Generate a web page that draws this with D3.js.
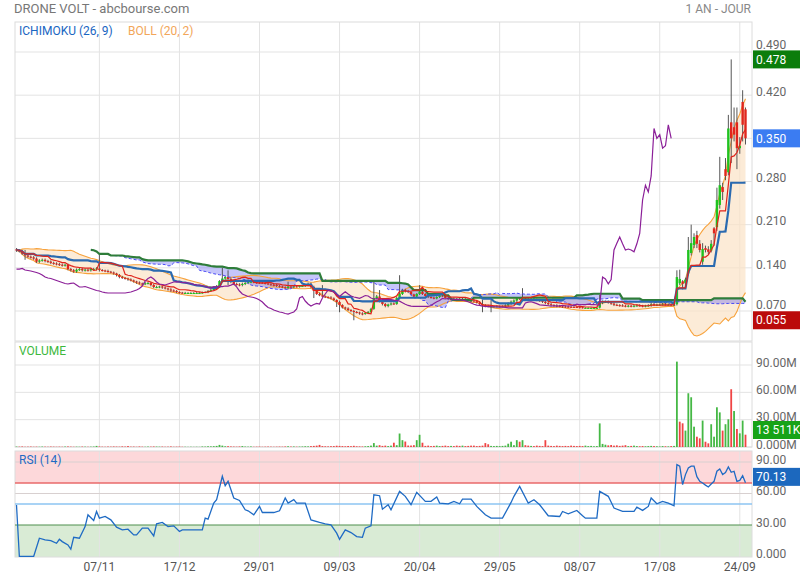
<!DOCTYPE html>
<html><head><meta charset="utf-8">
<script src="https://cdn.jsdelivr.net/npm/d3@7"></script>
<style>body{margin:0;background:#fff;}svg{font-family:Roboto,"Noto Sans",sans-serif;}</style>
</head><body><svg id="c" width="800" height="580"></svg>
<script>
const closes=[.168,.167,.163,.160,.158,.157,.155,.150,.152,.153,
.151,.150,.148,.147,.146,.145,.144,.145,.138,.136,
.134,.137,.138,.136,.137,.136,.138,.138,.139,.1365,
.1357,.1349,.1337,.1324,.1308,.1284,.1251,.1235,.1227,.1211,
.1195,.1178,.1162,.1146,.1138,.1149,.1154,.1122,.1089,.1089,
.1097,.1081,.1065,.1049,.1032,.1024,.1008,.0997,.0992,.0992,
.0992,.0992,.0992,.0992,.0992,.100,.1008,.1024,.1041,.1065,
.1105,.1186,.1227,.1251,.1219,.117,.1138,.113,.1122,.1138,
.1154,.117,.1175,.117,.1162,.1159,.1154,.1146,.1133,.1125,
.1122,.1109,.1097,.1084,.1073,.1095,.109,.110,.1095,.1105,
.1105,.112,.1138,.109,.1024,.0976,.0955,.0935,.0927,.0919,
.0903,.0878,.0846,.0797,.0757,.0741,.0716,.070,.0684,.0676,
.066,.0651,.0668,.0684,.0732,.0911,.0935,.0862,.0814,.0781,
.0805,.0822,.0814,.0911,.0976,.1041,.1024,.1008,.0968,.0935,
.0976,.1013,.0976,.0943,.0927,.0916,.0905,.0927,.0951,.0943,
.0911,.0895,.090,.0895,.089,.0885,.089,.0885,.0875,.087,
.086,.0835,.081,.079,.078,.0775,.0775,.0775,.0775,.0775,
.0776,.079,.082,.085,.087,.0905,.0895,.0905,.0895,.0885,
.089,.0885,.0875,.0865,.085,.083,.081,.0795,.079,.078,
.0775,.0772,.077,.0768,.0766,.0764,.0762,.076,.075,.075,
.075,.075,.075,.075,.083,.0845,.085,.0835,.082,.080,
.0795,.079,.0785,.078,.0785,.078,.0785,.079,.0785,.078,
.0785,.079,.081,.080,.0805,.0805,.081,.0805,.0805,.080,
.080,.125,.122,.114,.121,.169,.180,.190,.179,.169,
.1705,.169,.166,.179,.196,.250,.274,.263,.289,.366,
.350,.356,.334,.338,.372,.350];
const opens=[.170,.168,.167,.163,.160,.158,.157,.155,.150,.152,
.153,.151,.150,.148,.147,.146,.145,.144,.145,.138,
.136,.134,.137,.138,.136,.137,.136,.138,.138,.139,
.1365,.1357,.1349,.1337,.1324,.1308,.1284,.1251,.1235,.1227,
.1211,.1195,.1178,.1162,.1146,.1138,.1149,.1154,.1122,.1089,
.1089,.1097,.1081,.1065,.1049,.1032,.1024,.1008,.0997,.0992,
.0992,.0992,.0992,.0992,.0992,.0992,.100,.1008,.1024,.1041,
.1065,.1105,.1186,.1227,.1251,.1219,.117,.1138,.113,.1122,
.1138,.1154,.117,.1175,.117,.1162,.1159,.1154,.1146,.1133,
.1125,.1122,.1109,.1097,.1084,.1073,.1095,.109,.110,.1095,
.1105,.1105,.112,.1138,.109,.1024,.0976,.0955,.0935,.0927,
.0919,.0903,.0878,.0846,.0797,.0757,.0741,.0716,.070,.0684,
.0676,.066,.0651,.0668,.0684,.0735,.0911,.0935,.0862,.0814,
.0781,.0805,.0822,.0814,.0911,.0976,.1041,.1024,.1008,.0968,
.0935,.0976,.1013,.0976,.0943,.0927,.0916,.0905,.0927,.0951,
.0943,.0911,.0895,.090,.0895,.089,.0885,.089,.0885,.0875,
.087,.086,.0835,.081,.079,.078,.0775,.0775,.0775,.0775,
.0775,.0776,.079,.082,.085,.087,.0905,.0895,.0905,.0895,
.0885,.089,.0885,.0875,.0865,.085,.083,.081,.0795,.079,
.078,.0775,.0772,.077,.0768,.0766,.0764,.0762,.076,.075,
.075,.075,.075,.075,.0755,.083,.0845,.085,.0835,.082,
.080,.0795,.079,.0785,.078,.0785,.078,.0785,.079,.0785,
.078,.0785,.079,.081,.080,.0805,.0805,.081,.0805,.0805,
.0795,.081,.115,.118,.115,.131,.164,.177,.193,.179,
.150,.172,.170,.168,.204,.206,.242,.271,.300,.295,
.376,.368,.376,.334,.409,.397];
const highs=[.172,.170,.169,.169,.162,.160,.159,.157,.154,.155,
.155,.153,.152,.150,.149,.148,.147,.147,.147,.140,
.138,.139,.140,.140,.139,.139,.140,.140,.141,.164,
.138,.137,.137,.135,.134,.132,.130,.127,.125,.124,
.123,.121,.119,.118,.116,.117,.117,.117,.114,.111,
.111,.111,.110,.108,.107,.105,.104,.102,.101,.101,
.1005,.1005,.1005,.1005,.1005,.1015,.102,.104,.106,.108,
.112,.120,.140,.127,.136,.124,.119,.116,.115,.116,
.117,.121,.119,.119,.119,.118,.118,.117,.116,.115,
.114,.114,.112,.111,.110,.1175,.111,.112,.112,.112,
.112,.114,.116,.116,.111,.104,.100,.112,.095,.094,
.094,.092,.089,.087,.081,.077,.076,.073,.072,.070,
.069,.068,.068,.070,.075,.117,.096,.104,.088,.083,
.082,.084,.084,.093,.128,.106,.106,.104,.102,.098,
.099,.112,.103,.099,.096,.094,.093,.094,.097,.097,
.096,.093,.092,.092,.091,.091,.091,.091,.090,.089,
.089,.088,.085,.088,.081,.080,.088,.079,.079,.079,
.079,.081,.084,.087,.089,.092,.092,.107,.092,.091,
.091,.091,.090,.089,.088,.087,.085,.083,.081,.081,
.080,.079,.079,.079,.078,.078,.078,.078,.077,.076,
.076,.076,.076,.076,.096,.087,.087,.087,.085,.084,
.082,.081,.081,.080,.080,.080,.080,.081,.081,.080,
.080,.081,.083,.083,.082,.082,.083,.083,.082,.082,
.082,.136,.137,.120,.124,.190,.210,.196,.200,.185,
.180,.176,.175,.185,.206,.270,.320,.278,.318,.388,
.478,.400,.400,.352,.428,.400];
const lows=[.166,.165,.161,.153,.156,.155,.153,.148,.148,.150,
.149,.148,.146,.145,.144,.143,.142,.142,.136,.134,
.132,.132,.135,.134,.134,.134,.134,.136,.136,.134,
.134,.133,.132,.131,.129,.126,.123,.122,.121,.119,
.118,.116,.114,.113,.112,.112,.113,.110,.107,.107,
.107,.106,.105,.103,.101,.101,.099,.098,.098,.098,
.098,.098,.098,.098,.098,.098,.099,.099,.101,.103,
.105,.109,.121,.121,.112,.115,.112,.111,.110,.110,
.112,.114,.115,.115,.114,.114,.114,.113,.112,.111,
.110,.109,.108,.107,.106,.105,.107,.107,.108,.108,
.109,.109,.110,.107,.091,.096,.094,.092,.091,.090,
.089,.086,.0765,.068,.074,.072,.070,.068,.055,.066,
.064,.063,.064,.065,.067,.072,.089,.084,.079,.076,
.076,.079,.080,.080,.089,.096,.100,.099,.095,.092,
.092,.096,.096,.093,.091,.090,.089,.089,.091,.093,
.090,.088,.088,.088,.088,.087,.087,.087,.086,.085,
.084,.082,.079,.068,.076,.076,.068,.076,.076,.076,
.076,.076,.077,.080,.083,.085,.088,.088,.088,.087,
.087,.087,.086,.085,.083,.081,.079,.078,.077,.076,
.076,.075,.075,.075,.075,.075,.075,.074,.074,.074,
.074,.074,.074,.074,.074,.081,.083,.082,.080,.078,
.078,.077,.077,.076,.076,.076,.076,.077,.077,.076,
.076,.077,.077,.078,.078,.079,.079,.079,.079,.078,
.0785,.079,.112,.105,.112,.128,.160,.172,.172,.165,
.145,.165,.162,.165,.176,.200,.236,.250,.282,.290,
.310,.345,.300,.325,.345,.340];
const volumes=[.5,.4,.6,.3,.4,.5,.3,.4,.3,.5,
.4,.3,.5,.4,.3,.4,.3,.5,.6,.4,
.3,.4,.3,.5,.4,.3,.4,.5,1.2,.6,
.4,.3,.5,.4,.6,.5,.4,.7,.5,1.0,
.4,.5,.3,.6,.4,.3,.5,.4,.6,.5,
.4,.5,.3,.4,.6,.3,.4,.5,.3,.3,
.2,.3,.2,.3,.2,.6,.5,.8,.7,.9,
1.2,2.3,1.5,.8,.9,.6,.5,.4,.6,1.0,
.5,.4,.6,.3,.4,.5,.3,.4,.5,.4,
.3,.4,.5,.4,.6,.8,.5,.6,.4,.5,
.6,.8,.7,1.0,1.2,1.5,2.3,1.0,.8,.7,
.9,1.0,1.4,1.2,1.0,.8,1.1,.9,1.3,.8,
.7,.6,.8,1.0,1.5,4.3,1.5,2.0,1.2,1.5,
1.0,1.5,4.7,2.0,14.8,7.5,6.0,1.6,1.6,2.0,
7.5,13.4,4.7,1.2,1.5,1.0,1.2,1.5,1.0,1.2,
1.5,1.0,1.2,1.0,1.5,1.2,1.5,1.0,1.2,1.5,
1.5,1.0,1.2,1.5,4.3,3.0,1.2,1.0,1.2,1.0,
1.2,1.5,3.6,5.8,2.0,7.5,5.8,7.5,2.0,1.5,
1.2,1.0,1.5,1.2,1.0,7.5,1.5,1.2,1.0,1.5,
1.2,1.0,1.2,1.0,1.5,1.2,1.0,1.2,1.0,1.5,
1.0,1.2,.8,1.0,25.9,3.4,2.5,1.8,2.2,1.5,
1.8,1.2,1.5,2.0,1.0,1.2,1.5,1.0,.8,1.0,
.8,1.0,1.2,1.0,.8,.6,1.0,.8,.7,1.0,
1.2,93.7,27.8,26,18,59,54.6,22.3,11.3,9.5,
29,5.8,4,25,11.3,43.6,38,18,25,30.4,
63.4,39.5,19.8,15,29,13.511];
const rsiIdx=[0,1,6,8,10,12,14,15,16,18,19,20,22,24,25,27,28,29,31,33,35,37,39,41,42,44,46,48,49,51,53,55,57,58,65,66,67,69,70,72,73,74,76,78,80,81,83,85,86,90,92,94,95,97,98,101,103,106,108,110,112,113,115,117,119,121,122,124,125,127,128,130,131,134,136,138,140,143,145,147,148,151,153,155,156,159,161,164,166,170,173,174,176,179,181,183,186,190,191,193,196,198,199,203,204,207,209,212,216,217,219,221,222,224,226,228,230,231,232,233,234,235,236,237,238,239,240,241,242,243,244,245,246,247,248,249,250,251,252,253,254,255];
const rsiVal=[49,0,0,17.4,15.8,15.2,12.6,16.4,14.2,11,6.9,18.3,17.4,28.5,39.7,34.3,42.9,36.5,38.1,34.9,27.9,25.4,26,20.6,20.6,27,27,19.6,31.1,32.4,28.5,29.2,23.8,25.4,25.4,36.5,35.6,50.9,54.1,76.4,67.5,71.6,55.7,53.4,44.5,43.5,39.7,47.7,41.9,41.9,43.5,55.7,50.9,54.1,50.9,50.9,34.9,32.4,31.1,30.1,22.2,16.4,25.4,22.8,19,18.3,27,29.2,58.8,57.9,45.1,49.3,44.5,62,57.3,49.3,61.1,52.5,52.5,56.6,50.9,50.2,52.5,50.2,54.7,54.7,47.7,39.7,36.5,36.5,51.5,57.3,66.8,50.9,54.1,49.3,38.8,38.1,42.9,40.7,43.9,38.8,36.5,36.5,62,57.3,46.1,42.9,42.9,47,43.9,47.7,55.7,50.2,52.5,50.9,48.3,87.5,86,68.4,78,84.4,86,86,76,71.6,70,68,66.2,69,71.6,81.2,83.4,78,80,85.3,80.2,81.2,71.6,72.5,77,70.13];
const tickIdx=[29,57,85,113,141,169,197,225,253];
const tickLabels=["07/11","17/12","29/01","09/03","20/04","29/05","08/07","17/08","24/09"];
const priceTicks=[0.070,0.140,0.210,0.280,0.350,0.420,0.490];
const volTicks=[0,30,60,90];
const rsiTicks=[0,30,60,90];
const priceMarks=[{v:0.478,c:"#0b7d0b"},{v:0.350,c:"#3b7cf2"},{v:0.055,c:"#bb0b0b"}];

const svg=d3.select("#c");
const L=15,R=752;
const P={top:22,bottom:341},V={top:342,bottom:447},S={top:451,bottom:557};
const x=d3.scaleLinear().domain([0,255]).range([16.5,745.5]);
const y=d3.scaleLinear().domain([0.07,0.49]).range([311,52]);
const yv=d3.scaleLinear().domain([0,90]).range([447,365]);
const yr=d3.scaleLinear().domain([0,90]).range([556.5,462]);
const N=closes.length;
const grid="#e3e3e3";

svg.append("text").attr("x",14).attr("y",13).attr("font-size",13).attr("fill","#777").text("DRONE VOLT - abcbourse.com");
svg.append("text").attr("x",751).attr("y",13).attr("text-anchor","end").attr("font-size",12).attr("fill","#888").text("1 AN - JOUR");

const defs=svg.append("defs");
[["cp",P],["cv",V],["cr",S]].forEach(([id,p])=>defs.append("clipPath").attr("id",id).append("rect").attr("x",L).attr("y",p.top).attr("width",R-L).attr("height",p.bottom-p.top));

svg.append("rect").attr("x",L).attr("y",S.top).attr("width",R-L).attr("height",yr(70)-S.top).attr("fill","#fdd8da");
svg.append("rect").attr("x",L).attr("y",yr(30)).attr("width",R-L).attr("height",S.bottom-yr(30)).attr("fill","#d9ebd5");

function vgrid(p){tickIdx.forEach(t=>svg.append("line").attr("x1",x(t)).attr("x2",x(t)).attr("y1",p.top).attr("y2",p.bottom).attr("stroke",grid));}
vgrid(P);vgrid(V);vgrid(S);
priceTicks.forEach(t=>svg.append("line").attr("x1",L).attr("x2",R).attr("y1",y(t)).attr("y2",y(t)).attr("stroke",grid));
volTicks.forEach(t=>svg.append("line").attr("x1",L).attr("x2",R).attr("y1",yv(t)).attr("y2",yv(t)).attr("stroke",grid));
[60,90].forEach(t=>svg.append("line").attr("x1",L).attr("x2",R).attr("y1",yr(t)).attr("y2",yr(t)).attr("stroke","#d8d0d0"));
[P,V,S].forEach(p=>svg.append("rect").attr("x",L).attr("y",p.top).attr("width",R-L).attr("height",p.bottom-p.top).attr("fill","none").attr("stroke","#dcdcdc"));

function mid(k,p){const a=Math.max(0,k-p+1);return (d3.max(highs.slice(a,k+1))+d3.min(lows.slice(a,k+1)))/2;}
const idx=d3.range(N);
const tenkan=idx.map(k=>mid(k,9));
const kijun=idx.map(k=>mid(k,26));
const spanB=idx.map(k=>mid(k,52));
const cloud=d3.range(26,N).map(k=>({k,a:(tenkan[k-26]+kijun[k-26])/2,b:spanB[k-26]}));
const boll=idx.map(k=>{const w=closes.slice(Math.max(0,k-19),k+1);const m=d3.mean(w);const sd=Math.sqrt(d3.mean(w.map(v=>(v-m)*(v-m))));return {k,u:m+2*sd,l:m-2*sd};});

const gm=svg.append("g").attr("clip-path","url(#cp)");
gm.append("path").datum(boll).attr("d",d3.area().x(d=>x(d.k)).y0(d=>y(d.l)).y1(d=>y(d.u))).attr("fill","#fbe3c6").attr("fill-opacity",0.7);
gm.append("path").datum(cloud).attr("d",d3.area().x(d=>x(d.k)).y0(d=>y(d.a)).y1(d=>y(d.b))).attr("fill","#5a5af0").attr("fill-opacity",0.35);
const ln=(acc)=>d3.line().x(d=>x(d.k)).y(acc);
gm.append("path").datum(boll).attr("d",ln(d=>y(d.u))).attr("fill","none").attr("stroke","#f7a23c").attr("stroke-width",1.1);
gm.append("path").datum(boll).attr("d",ln(d=>y(d.l))).attr("fill","none").attr("stroke","#f7a23c").attr("stroke-width",1.1);

const cg=gm.append("g");
idx.forEach(k=>{
  cg.append("line").attr("x1",x(k)).attr("x2",x(k)).attr("y1",y(highs[k])).attr("y2",y(lows[k])).attr("stroke","#555").attr("stroke-width",1);
  const up=closes[k]>=opens[k];
  const t=y(Math.max(opens[k],closes[k])),b=y(Math.min(opens[k],closes[k]));
  cg.append("rect").attr("x",x(k)-1.2).attr("width",2.4).attr("y",t).attr("height",Math.max(1,b-t)).attr("fill",up?"#1fc31f":"#e0261c");
});

gm.append("path").datum(cloud).attr("d",ln(d=>y(d.a))).attr("fill","none").attr("stroke","#4a4af5").attr("stroke-width",1).attr("stroke-dasharray","3,2");
gm.append("path").datum(cloud).attr("d",ln(d=>y(d.b))).attr("fill","none").attr("stroke","#2e7d3a").attr("stroke-width",2.2);
gm.append("path").datum(idx.map(k=>({k,v:kijun[k]}))).attr("d",ln(d=>y(d.v))).attr("fill","none").attr("stroke","#2a6ab0").attr("stroke-width",2.2);
gm.append("path").datum(idx.map(k=>({k,v:tenkan[k]}))).attr("d",ln(d=>y(d.v))).attr("fill","none").attr("stroke","#e0231a").attr("stroke-width",1.2);
gm.append("path").datum(d3.range(0,N-26).map(k=>({k,v:closes[k+26]}))).attr("d",ln(d=>y(d.v))).attr("fill","none").attr("stroke","#8b1f98").attr("stroke-width",1.2);

const gv=svg.append("g").attr("clip-path","url(#cv)");
idx.forEach(k=>{
  const up=k===0?true:closes[k]>=closes[k-1];
  gv.append("rect").attr("x",x(k)-0.9).attr("width",1.8).attr("y",yv(volumes[k])).attr("height",Math.max(0.4,yv(0)-yv(volumes[k]))).attr("fill",up?"#45b845":"#f04444");
});

svg.append("line").attr("x1",L).attr("x2",R).attr("y1",yr(70)).attr("y2",yr(70)).attr("stroke","#e86a6a").attr("stroke-width",1.3);
svg.append("line").attr("x1",L).attr("x2",R).attr("y1",yr(50)).attr("y2",yr(50)).attr("stroke","#8cc4f2").attr("stroke-width",1.3);
svg.append("line").attr("x1",L).attr("x2",R).attr("y1",yr(30)).attr("y2",yr(30)).attr("stroke","#4e8f4e").attr("stroke-width",1.2);
svg.append("g").attr("clip-path","url(#cr)").append("path").datum(rsiIdx.map((k,i)=>({k,v:rsiVal[i]}))).attr("d",ln(d=>yr(d.v))).attr("fill","none").attr("stroke","#1f6bc4").attr("stroke-width",1.3);

const lab=(yy,t)=>svg.append("text").attr("x",756).attr("y",yy).attr("dy","0.35em").attr("font-size",12).attr("fill","#666").text(t);
const boxYs=priceMarks.map(m=>y(m.v));
priceTicks.forEach(t=>{
  let ly=y(t)-3.5;
  const near=boxYs.filter(b=>Math.abs(b-ly)<15);
  if(near.some(b=>Math.abs(b-ly)<7))return; // label hidden under a value box, as in the source
  near.forEach(b=>{if(b>ly)ly=Math.min(ly,b-15);});
  lab(ly,t.toFixed(3));
});
volTicks.forEach(t=>lab(yv(t)-2.5,t===0?"0.000M":t.toFixed(2)+"M"));
rsiTicks.forEach(t=>lab(yr(t)-2.5,t===0?"0.000":t.toFixed(2)));
tickIdx.forEach((t,i)=>svg.append("text").attr("x",x(t)).attr("y",571).attr("text-anchor","middle").attr("font-size",12).attr("fill","#555").text(tickLabels[i]));

const box=(yy,c,t)=>{svg.append("rect").attr("x",753).attr("y",yy-9).attr("width",47).attr("height",18).attr("fill",c);
  svg.append("text").attr("x",756).attr("y",yy).attr("dy","0.35em").attr("font-size",12).attr("fill","#fff").text(t);};
priceMarks.forEach(m=>box(y(m.v),m.c,m.v.toFixed(3)));
const lastVol=volumes[N-1];
box(Math.min(yv(lastVol),V.bottom-17),"#17a317",d3.format(",.0f")(lastVol*1000).replace(","," ")+"K");
const lastR=rsiVal[rsiVal.length-1];
box(yr(lastR)-6,"#1c68be",lastR.toFixed(2));

svg.append("text").attr("x",19).attr("y",35).attr("font-size",12).attr("fill","#1a66c2").text("ICHIMOKU (26, 9)");
svg.append("text").attr("x",128).attr("y",35).attr("font-size",12).attr("fill","#f2a65a").text("BOLL (20, 2)");
svg.append("text").attr("x",19).attr("y",355).attr("font-size",12).attr("fill","#3db83d").text("VOLUME");
svg.append("text").attr("x",19).attr("y",464).attr("font-size",12).attr("fill","#1f6bc4").text("RSI (14)");
</script></body></html>
